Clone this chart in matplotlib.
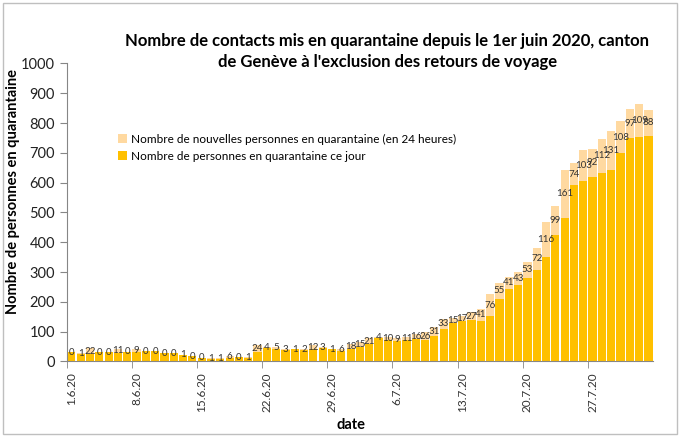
import matplotlib
matplotlib.use('Agg')
import matplotlib.pyplot as plt
from matplotlib.patches import Rectangle
import numpy as np

# dates shown on the axis (one every 7 days)
tick_labels = ['1.6.20', '8.6.20', '15.6.20', '22.6.20', '29.6.20',
               '6.7.20', '13.7.20', '20.7.20', '27.7.20']

# persons in quarantine that day (1.6 -> 2.8)
base = [31, 26, 24, 31, 31, 30, 32, 32, 34, 34,
        28, 27, 22, 17, 12, 10, 10, 13, 14, 13,
        32, 44, 43, 39, 41, 40, 42, 45, 41, 36,
        41, 50, 58, 78, 72, 70, 71, 77, 72, 84,
        110, 130, 137, 138, 136, 151, 210, 244, 257, 281,
        308, 352, 423, 483, 592, 606, 620, 634, 642, 698,
        749, 754, 757]

# new persons in quarantine (24h)
new = [0, 1, 22, 0, 0, 11, 0, 9, 0, 0,
       0, 0, 1, 0, 0, 1, 1, 6, 0, 1,
       24, 4, 5, 3, 1, 2, 12, 3, 1, 6,
       18, 15, 21, 4, 10, 9, 11, 16, 26, 31,
       33, 15, 17, 27, 41, 76, 55, 41, 43, 53,
       72, 116, 99, 161, 74, 103, 92, 112, 131, 108,
       97, 109, 88]

dark = '#FFC000'
light = '#FFD9A0'
gray = '#868686'

plt.rcParams['font.family'] = ['Lato', 'DejaVu Sans']

fig = plt.figure(figsize=(6.81, 4.37), dpi=100)
ax = fig.add_axes([0.098, 0.1728, 0.861, 0.682])

x = np.arange(len(base))
b1 = ax.bar(x, base, width=0.88, color=dark, label='Nombre de personnes en quarantaine ce jour')
b2 = ax.bar(x, new, width=0.88, bottom=base, color=light,
            label='Nombre de nouvelles personnes en quarantaine (en 24 heures)')
ax.bar_label(b2, labels=[str(v) for v in new], label_type='center',
             fontsize=7, color='#333333')

ax.set_xlim(-0.5, len(base) - 0.5)
ax.set_ylim(0, 1000)
ax.set_yticks(np.arange(0, 1001, 100))
ax.tick_params(axis='y', labelsize=10.5, length=5, color=gray, labelcolor='#222222')

major = np.arange(0, len(base), 7)
ax.set_xticks(major)
ax.set_xticklabels(tick_labels, rotation=90, fontsize=8.5, color='#333333')
ax.set_xticks(major - 0.5, minor=True)
ax.tick_params(axis='x', which='major', length=0, pad=8)
ax.tick_params(axis='x', which='minor', length=5, color=gray)

for s in ['top', 'right']:
    ax.spines[s].set_visible(False)
for s in ['left', 'bottom']:
    ax.spines[s].set_color(gray)

ax.set_xlabel('date', fontsize=10.5, fontweight='bold')
ax.xaxis.set_label_coords(0.485, -0.19)
ax.set_ylabel('Nombre de personnes en quarantaine', fontsize=10.5, fontweight='bold')
ax.yaxis.set_label_coords(-0.08, 0.57)

handles, labels = ax.get_legend_handles_labels()
ax.legend(handles[::-1], labels[::-1], loc='upper left', bbox_to_anchor=(0.07, 0.8),
          frameon=False, fontsize=8.5, handlelength=0.7, handleheight=0.7,
          handletextpad=0.4, labelspacing=0.5)

fig.text(0.569, 0.882, "Nombre de contacts mis en quarantaine depuis le 1er juin 2020, canton\n"
         "de Genève à l'exclusion des retours de voyage",
         ha='center', va='center', fontsize=12, fontweight='bold', linespacing=1.4)

fig.patches.append(Rectangle((0.004, 0.007), 0.99, 0.985, transform=fig.transFigure,
                             fill=False, edgecolor='#BFBFBF', linewidth=1))

fig.savefig('out.png', dpi=100)
